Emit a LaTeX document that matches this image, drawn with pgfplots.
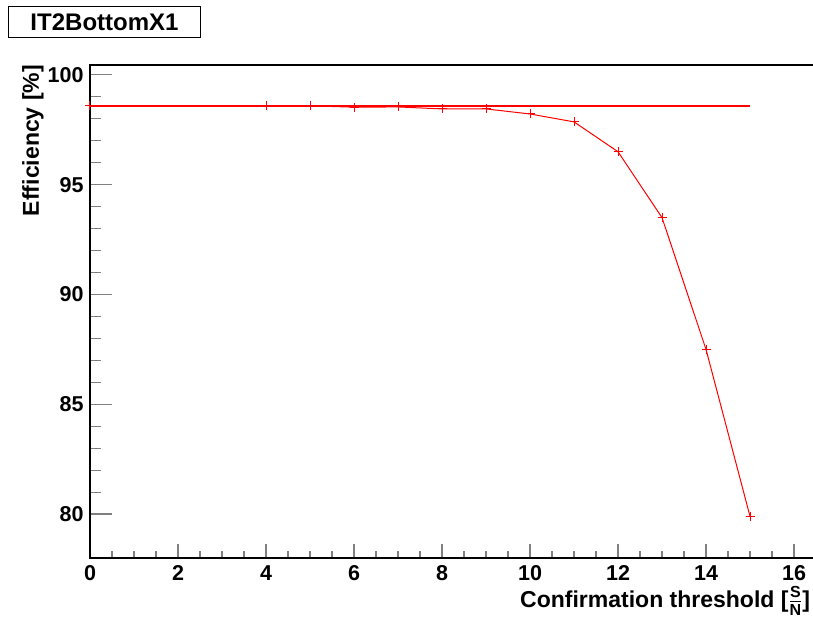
\documentclass[border=0pt]{standalone}
\usepackage{fontspec}
\setmainfont{Liberation Sans}
\usepackage{pgfplots}
\pgfplotsset{compat=1.18}
\definecolor{rootred}{RGB}{255,0,0}
\begin{document}
\begin{tikzpicture}
\begin{axis}[
  at={(0,0)}, anchor=south west,
  scale only axis,
  width=726bp, height=493bp,
  xmin=0, xmax=16.5,
  ymin=78, ymax=100.45,
  clip=false,
  axis line style={line width=1.4bp},
  tick align=inside,
  xtick pos=bottom, ytick pos=left,
  xtick={0,2,4,6,8,10,12,14,16},
  ytick={80,85,90,95,100},
  minor x tick num=3,
  minor y tick num=4,
  major x tick style={line width=1.2bp, /pgfplots/major tick length=14bp},
  minor x tick style={line width=1.2bp, /pgfplots/minor tick length=7bp},
  major y tick style={line width=1.2bp, /pgfplots/major tick length=22bp},
  minor y tick style={line width=1.2bp, /pgfplots/minor tick length=11bp},
  /pgf/number format/assume math mode=true,
  ticklabel style={font=\bfseries\fontsize{21.5bp}{22bp}\selectfont},
  yticklabel style={anchor=east, xshift=-3bp},
  xticklabel style={anchor=north, yshift=-4bp},
]
\addplot[rootred, line width=1.5bp, mark=none] coordinates {(0,98.59) (7.5,98.59) (15,98.59)};
\addplot[color=rootred, line width=1bp, mark=+, mark size=4.5bp, mark options={line width=1bp, color=rootred}] coordinates {
 (0,98.59) (4,98.59) (5,98.59) (6,98.53) (7,98.54) (8,98.45) (9,98.45)
 (10,98.22) (11,97.86) (12,96.50) (13,93.50) (14,87.50) (15,79.90)
};
\end{axis}
% title box
\node[draw=black, line width=1bp, minimum width=191bp, minimum height=31bp, inner sep=0pt,
      font=\bfseries\fontsize{24bp}{24bp}\selectfont] at (14.5bp,535.5bp) {IT2BottomX1};
% y label
\node[rotate=90, anchor=base east, inner sep=0pt, font=\bfseries\fontsize{23bp}{23bp}\selectfont]
  at (-51bp,493bp) {Efficiency [\%]};
% x label
\node[anchor=base west, inner sep=0pt, font=\bfseries\fontsize{23bp}{23bp}\selectfont]
  at (430bp,-49bp) {Confirmation threshold [$\frac{\mbox{\bfseries\fontsize{16bp}{16bp}\selectfont S}}{\mbox{\bfseries\fontsize{16bp}{16bp}\selectfont N}}$]};
\pgfresetboundingbox
\path[use as bounding box] (-90bp,-61bp) rectangle (723bp,558bp);
\end{tikzpicture}
\end{document}
